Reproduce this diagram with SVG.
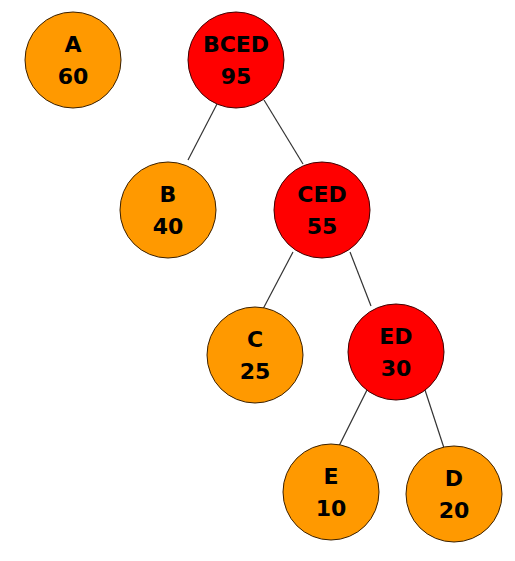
<svg xmlns="http://www.w3.org/2000/svg" width="515" height="561" viewBox="0 0 515 561">
<style>
.orange{fill:#FF9900;stroke:#3a2000;stroke-width:1}
.red{fill:#FF0000;stroke:#400000;stroke-width:1}
text{font-family:"DejaVu Sans",sans-serif;font-weight:bold;font-size:22px;fill:#000;text-anchor:middle}
.edge{stroke:#333;stroke-width:1.2;fill:none}
</style>
<rect width="515" height="561" fill="#fff"/>
<g id="connectors">
<line class="edge" x1="217" y1="104" x2="188" y2="160"/>
<line class="edge" x1="264" y1="100" x2="303" y2="164"/>
<line class="edge" x1="293" y1="252" x2="263" y2="309"/>
<line class="edge" x1="350" y1="252" x2="371" y2="306"/>
<line class="edge" x1="367" y1="390" x2="339" y2="446"/>
<line class="edge" x1="425" y1="390" x2="444" y2="448"/>
</g>
<g id="A"><circle class="orange" cx="73" cy="60" r="48"/><text x="73" y="52">A</text><text x="73" y="84">60</text></g>
<g id="BCED"><circle class="red" cx="236" cy="60" r="48"/><text x="236" y="52">BCED</text><text x="236" y="84">95</text></g>
<g id="B"><circle class="orange" cx="168" cy="210" r="48"/><text x="168" y="202">B</text><text x="168" y="234">40</text></g>
<g id="CED"><circle class="red" cx="322" cy="210" r="48"/><text x="322" y="202">CED</text><text x="322" y="234">55</text></g>
<g id="C"><circle class="orange" cx="255" cy="355" r="48"/><text x="255" y="347">C</text><text x="255" y="379">25</text></g>
<g id="ED"><circle class="red" cx="396" cy="352" r="48"/><text x="396" y="344">ED</text><text x="396" y="376">30</text></g>
<g id="E"><circle class="orange" cx="331" cy="492" r="48"/><text x="331" y="484">E</text><text x="331" y="516">10</text></g>
<g id="D"><circle class="orange" cx="454" cy="494" r="48"/><text x="454" y="486">D</text><text x="454" y="518">20</text></g>
</svg>
